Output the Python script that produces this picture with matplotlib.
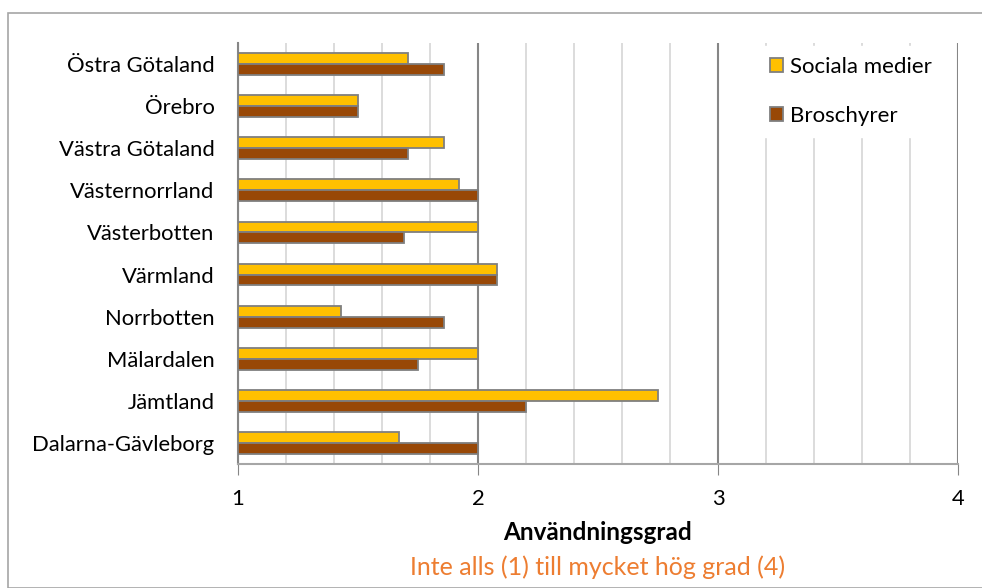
import matplotlib
matplotlib.use("Agg")
import matplotlib.pyplot as plt
import numpy as np
from matplotlib.patches import Rectangle

plt.rcParams['font.family'] = ['Lato', 'DejaVu Sans']

regions = ["Dalarna-Gävleborg", "Jämtland", "Mälardalen", "Norrbotten", "Värmland",
           "Västerbotten", "Västernorrland", "Västra Götaland", "Örebro", "Östra Götaland"]
sociala_medier = [1.67, 2.75, 2.0, 1.43, 2.08, 2.0, 1.92, 1.86, 1.5, 1.71]
broschyrer = [2.0, 2.2, 1.75, 1.86, 2.08, 1.69, 2.0, 1.71, 1.5, 1.86]
x_ticks = [1, 2, 3, 4]

W, H = 982, 588
fig = plt.figure(figsize=(W / 100, H / 100), dpi=100)

# outer chart frame
fig.patches.append(Rectangle((8 / W, 0), 2, (H - 13) / H, transform=fig.transFigure,
                             fill=False, edgecolor="#a6a6a6", linewidth=1.2))

ax = fig.add_axes([238 / W, (H - 464) / H, 720 / W, 421 / H])

y = np.arange(len(regions))
h = 0.26
edge = "#7f7f7f"
ax.barh(y + h / 2, np.array(sociala_medier) - 1, left=1, height=h, color="#FFC000",
        edgecolor=edge, linewidth=1.3, label="Sociala medier", zorder=3)
ax.barh(y - h / 2, np.array(broschyrer) - 1, left=1, height=h, color="#984807",
        edgecolor=edge, linewidth=1.3, label="Broschyrer", zorder=3)

ax.set_xlim(1, 4)
ax.set_ylim(-0.5, len(regions) - 0.5)
ax.set_yticks(y)
ax.set_yticklabels(regions, fontsize=15.8)
ax.tick_params(axis="y", length=0, pad=17)

ax.set_xticks(x_ticks)
ax.set_xticklabels([str(t) for t in x_ticks], fontsize=15.8)
ax.set_xticks(np.arange(1, 4.01, 0.2), minor=True)
ax.tick_params(axis="x", which="major", length=8, color="#868686", pad=10)
ax.tick_params(axis="x", which="minor", length=0)

ax.grid(axis="x", which="minor", color="#d9d9d9", linewidth=1.3, zorder=0)
ax.grid(axis="x", which="major", color="#868686", linewidth=1.5, zorder=1)

for s in ["top", "right"]:
    ax.spines[s].set_visible(False)
ax.spines["left"].set_color("#868686")
ax.spines["left"].set_linewidth(1.5)
ax.spines["bottom"].set_color("#a6a6a6")
ax.spines["bottom"].set_linewidth(1.5)

# axis title centred under the plot area
cx = ax.get_position().x0 + ax.get_position().width / 2
fig.text(cx, 1 - 532 / H, "Användningsgrad", fontsize=17.5, fontweight="bold",
         ha="center", va="center")
fig.text(cx, 1 - 567 / H, "Inte alls (1) till mycket hög grad (4)",
         fontsize=18, color="#ED7D31", ha="center", va="center")

leg = ax.legend(loc="upper left", bbox_to_anchor=((759 - 238) / 720, 1 - 3 / 421), fontsize=16,
                frameon=True, fancybox=False, edgecolor="white", facecolor="white",
                framealpha=1, handlelength=0.6, handleheight=0.6, handletextpad=0.3,
                labelspacing=1.3, borderpad=0.5, borderaxespad=0)
leg.set_zorder(5)

fig.savefig("out.png", dpi=100)
